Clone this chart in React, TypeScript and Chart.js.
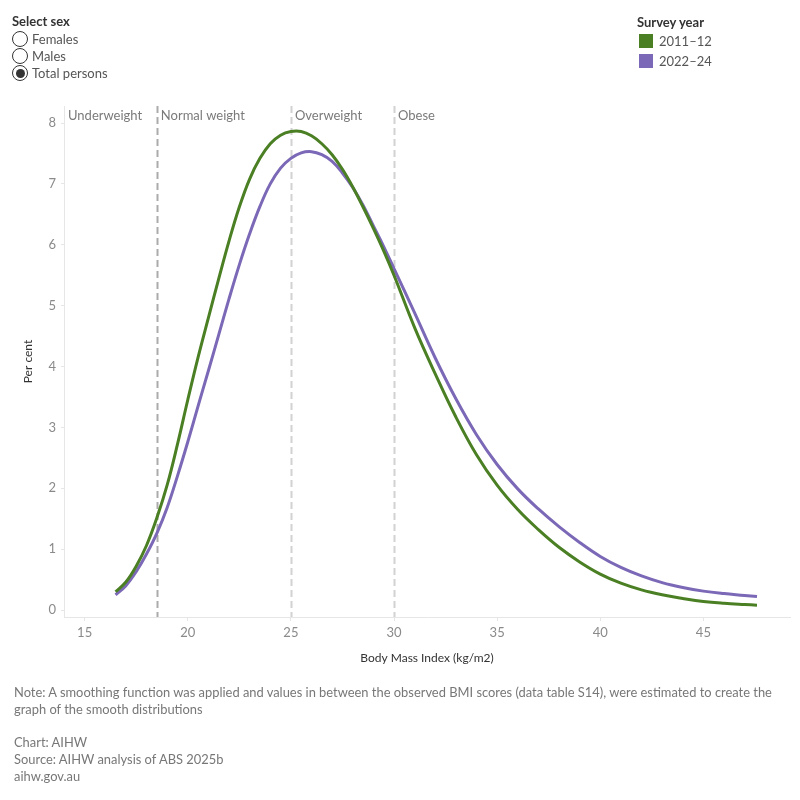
import { useEffect, useRef } from "react";
import { Chart, registerables } from "chart.js";

Chart.register(...registerables);

// BMI points of the smoothed distributions
const bmiValues = [
  16.5, 17, 17.5, 18, 18.5, 19, 19.5, 20, 20.5, 21, 21.5, 22, 22.5, 23, 23.5, 24,
  24.5, 25, 25.5, 26, 26.5, 27, 27.5, 28, 28.5, 29, 29.5, 30, 31, 32, 33, 34, 35,
  36, 37, 38, 39, 40, 41, 42, 43, 44, 45, 46, 47, 47.6,
];

// Per cent of total persons, 2011–12
const persons2011 = [
  0.3, 0.46, 0.72, 1.06, 1.51, 2.05, 2.72, 3.45, 4.15, 4.8, 5.44, 6.06, 6.62, 7.08,
  7.42, 7.66, 7.8, 7.86, 7.86, 7.79, 7.66, 7.48, 7.24, 6.95, 6.62, 6.27, 5.9, 5.5,
  4.64, 3.88, 3.17, 2.55, 2.05, 1.65, 1.32, 1.03, 0.79, 0.59, 0.44, 0.33, 0.25,
  0.19, 0.14, 0.11, 0.09, 0.08,
];

// Per cent of total persons, 2022–24
const persons2022 = [
  0.25, 0.4, 0.63, 0.92, 1.26, 1.68, 2.2, 2.76, 3.35, 3.93, 4.52, 5.11, 5.67, 6.18,
  6.63, 7.0, 7.26, 7.42, 7.51, 7.53, 7.48, 7.37, 7.18, 6.94, 6.65, 6.31, 5.97, 5.61,
  4.88, 4.14, 3.47, 2.88, 2.39, 1.99, 1.66, 1.37, 1.11, 0.88, 0.7, 0.56, 0.45, 0.37,
  0.31, 0.27, 0.24, 0.22,
];

const surveyYears = ["2011–12", "2022–24"];
const sexOptions = ["Females", "Males", "Total persons"];
const selectedSex = "Total persons";

const xTicks = [15, 20, 25, 30, 35, 40, 45];
const yTicks = [0, 1, 2, 3, 4, 5, 6, 7, 8];

// BMI category cut-offs and the bands they separate
const bmiCutoffs = [18.5, 25, 30];
const bmiBands = ["Underweight", "Normal weight", "Overweight", "Obese"];

const GREEN = "#4b7f24";
const PURPLE = "#7b68b6";
const FONT = "Lato, 'Open Sans', sans-serif";

const cutoffPlugin = {
  id: "bmiCutoffs",
  beforeDatasetsDraw(chart: any) {
    const { ctx, chartArea, scales } = chart;
    const xs = scales.x;
    ctx.save();
    bmiCutoffs.forEach((c, i) => {
      const px = Math.round(xs.getPixelForValue(c)) + 0.5;
      ctx.beginPath();
      ctx.setLineDash([7, 4]);
      ctx.lineWidth = 2;
      ctx.strokeStyle = i === 0 ? "#ababab" : "#d2d2d2";
      ctx.moveTo(px, chartArea.top);
      ctx.lineTo(px, chartArea.bottom);
      ctx.stroke();
    });
    ctx.setLineDash([]);
    ctx.font = `13px ${FONT}`;
    ctx.fillStyle = "#7a7a7a";
    ctx.textBaseline = "middle";
    ctx.textAlign = "left";
    const starts = [xs.min, ...bmiCutoffs];
    bmiBands.forEach((label, i) => {
      const px = i === 0 ? chartArea.left + 4 : xs.getPixelForValue(starts[i]) + 4;
      ctx.fillText(label, px, chartArea.top + 10);
    });
    ctx.restore();
  },
};

function BmiChart() {
  const ref = useRef<HTMLCanvasElement | null>(null);

  useEffect(() => {
    if (!ref.current) return;
    const chart = new Chart(ref.current, {
      type: "line",
      data: {
        datasets: [
          {
            label: surveyYears[0],
            data: bmiValues.map((x, i) => ({ x, y: persons2011[i] })),
            borderColor: GREEN,
            backgroundColor: GREEN,
            borderWidth: 3,
            pointRadius: 0,
            tension: 0.4,
          },
          {
            label: surveyYears[1],
            data: bmiValues.map((x, i) => ({ x, y: persons2022[i] })),
            borderColor: PURPLE,
            backgroundColor: PURPLE,
            borderWidth: 3,
            pointRadius: 0,
            tension: 0.4,
          },
        ],
      },
      options: {
        responsive: false,
        animation: false,
        events: [],
        layout: { padding: { top: 106, left: 0, right: 10, bottom: 133 } },
        plugins: {
          legend: { display: false },
          tooltip: { enabled: false },
        },
        scales: {
          x: {
            type: "linear",
            min: 14,
            max: 49.2,
            afterBuildTicks: (s: any) => {
              s.ticks = xTicks.map((v) => ({ value: v }));
            },
            afterFit: (s: any) => {
              s.height = 50;
            },
            grid: {
              drawOnChartArea: false,
              drawTicks: true,
              tickLength: 4,
              color: "#e6e6e6",
            },
            border: { color: "#e6e6e6" },
            ticks: {
              color: "#8a8a8a",
              font: { family: FONT, size: 13 },
              padding: 4,
              maxRotation: 0,
            },
            title: {
              display: true,
              text: "Body Mass Index (kg/m2)",
              color: "#333333",
              font: { family: FONT, size: 12 },
              padding: { top: 0, bottom: 2 },
            },
          },
          y: {
            type: "linear",
            min: -0.115,
            max: 8.28,
            afterBuildTicks: (s: any) => {
              s.ticks = yTicks.map((v) => ({ value: v }));
            },
            afterFit: (s: any) => {
              s.width = 64;
            },
            grid: {
              drawOnChartArea: false,
              drawTicks: true,
              tickLength: 3,
              color: "#e6e6e6",
            },
            border: { color: "#e6e6e6" },
            ticks: {
              color: "#8a8a8a",
              font: { family: FONT, size: 13 },
              padding: 5,
            },
            title: {
              display: true,
              text: "Per cent",
              color: "#333333",
              font: { family: FONT, size: 12 },
              padding: { top: 21, bottom: 0 },
            },
          },
        },
      },
      plugins: [cutoffPlugin],
    });
    return () => chart.destroy();
  }, []);

  return (
    <canvas
      ref={ref}
      width={800}
      height={800}
      style={{ position: "absolute", left: 0, top: 0, width: 800, height: 800 }}
    />
  );
}

function Radio({ label, top }: { label: string; top: number }) {
  const on = label === selectedSex;
  return (
    <div style={{ position: "absolute", left: 12, top: top - 8, height: 16, display: "flex", alignItems: "center" }}>
      <div
        style={{
          width: 14,
          height: 14,
          borderRadius: "50%",
          border: "1px solid #333",
          background: "#fff",
          display: "flex",
          alignItems: "center",
          justifyContent: "center",
        }}
      >
        {on && <div style={{ width: 9, height: 9, borderRadius: "50%", background: "#333" }} />}
      </div>
      <span style={{ marginLeft: 4, color: "#555", fontSize: 13 }}>{label}</span>
    </div>
  );
}

export default function App() {
  const colors = [GREEN, PURPLE];
  return (
    <div
      style={{
        position: "absolute",
        left: 0,
        top: 0,
        width: 800,
        height: 800,
        background: "#fff",
        fontFamily: FONT,
        overflow: "hidden",
      }}
    >
      <BmiChart />
      <div style={{ position: "absolute", left: 12, top: 13, fontSize: 13, fontWeight: 700, color: "#333" }}>
        Select sex
      </div>
      {sexOptions.map((s, i) => (
        <Radio key={s} label={s} top={39 + i * 17} />
      ))}
      <div style={{ position: "absolute", left: 637, top: 14, fontSize: 13, fontWeight: 700, color: "#333" }}>
        Survey year
      </div>
      {surveyYears.map((y, i) => (
        <div
          key={y}
          style={{ position: "absolute", left: 639, top: 33 + i * 20, height: 15, display: "flex", alignItems: "center" }}
        >
          <div style={{ width: 14, height: 14, background: colors[i] }} />
          <span style={{ marginLeft: 6, fontSize: 13, color: "#555" }}>{y}</span>
        </div>
      ))}
      <div
        style={{
          position: "absolute",
          left: 14,
          top: 684,
          fontSize: 12.9,
          lineHeight: "16.7px",
          color: "#777",
          whiteSpace: "nowrap",
        }}
      >
        <div>
          Note: A smoothing function was applied and values in between the observed BMI scores (data table S14), were estimated to create the
        </div>
        <div>graph of the smooth distributions</div>
        <div style={{ height: 16.7 }} />
        <div>Chart: AIHW</div>
        <div>Source: AIHW analysis of ABS 2025b</div>
        <div>aihw.gov.au</div>
      </div>
    </div>
  );
}
